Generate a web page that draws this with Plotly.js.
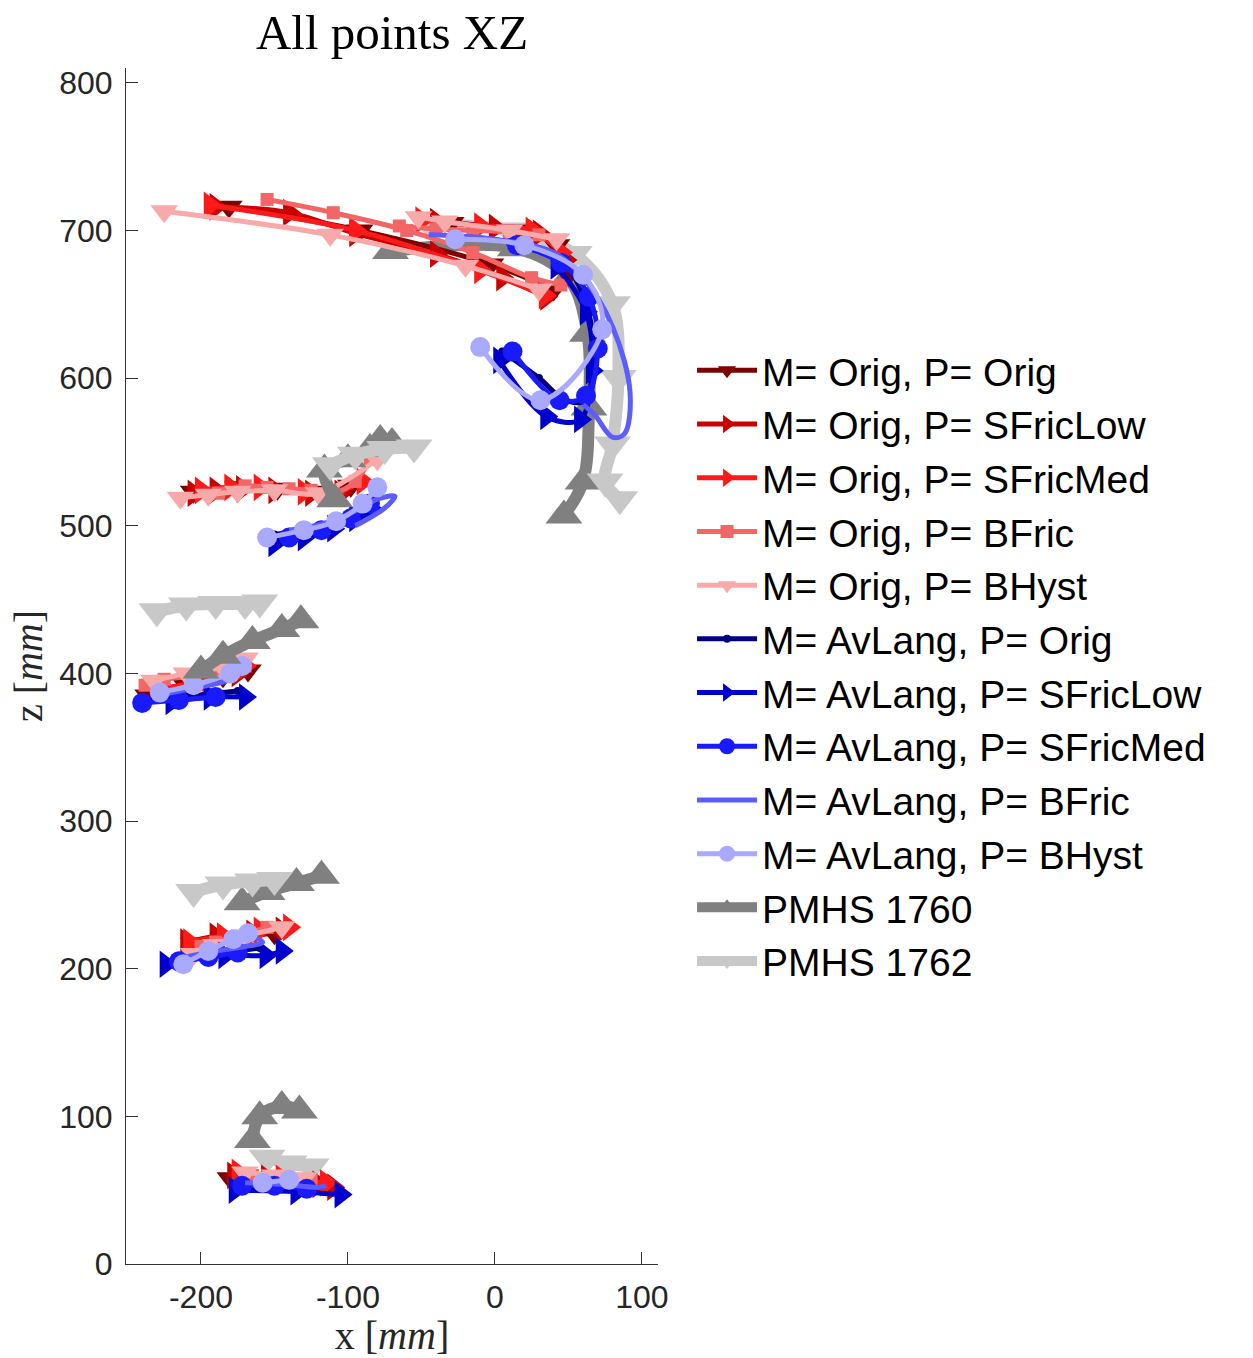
<!DOCTYPE html>
<html>
<head>
<meta charset="utf-8">
<script src="https://cdn.plot.ly/plotly-3.0.1.min.js"></script>
<style>
  html, body { margin: 0; padding: 0; background: #ffffff; }
  #chart { width: 1253px; height: 1358px; }
</style>
</head>
<body>
<div id="chart"></div>
<script>
// Trajectories in the XZ plane (mm). Each array holds one path per body point,
// separated by null: head arc, upper head, mid trunk, pelvis, knee, ankle.

const seriesNames = [
  'M= Orig, P= Orig', 'M= Orig, P= SFricLow', 'M= Orig, P= SFricMed',
  'M= Orig, P= BFric', 'M= Orig, P= BHyst',
  'M= AvLang, P= Orig', 'M= AvLang, P= SFricLow', 'M= AvLang, P= SFricMed',
  'M= AvLang, P= BFric', 'M= AvLang, P= BHyst',
  'PMHS 1760', 'PMHS 1762'
];

// M= Orig, P= Orig
const origOrigX = [-181, -92, -3, 40, null, -30, 15, 42, 50, null,
  -205, -175, -148, -120, -98, null, -236, -210, -185, -168, null,
  -205, -180, -150, null, -180, -150, -125];
const origOrigZ = [716, 700, 677, 660, null, 705, 700, 690, 670, null,
  523, 526, 525, 523, 527, null, 385, 392, 398, 402, null,
  217, 221, 224, null, 58, 56, 55];

// M= Orig, P= SFricLow
const origSFricLowX = [-190, -140, -95, -40, 5, 35, null, -40, 0, 30, 48, null,
  -205, -190, -172, -150, -125, -105, null, -230, -200, -175, null,
  -210, -190, -165, -145, null, -178, -155, -120, -110];
const origSFricLowZ = [716, 712, 698, 684, 668, 655, null, 706, 702, 698, 680, null,
  522, 524, 525, 524, 522, 522, null, 388, 394, 400, null,
  218, 222, 224, 226, null, 60, 58, 54, 52];

// M= Orig, P= SFricMed
const origSFricMedX = [-194, -95, -10, 34, null, -50, -10, 25, 45, null,
  -200, -180, -160, -130, -110, -90, null, -226, -195, -170, null,
  -208, -185, -160, -140, null, -175, -145, -115];
const origSFricMedZ = [717, 700, 673, 656, null, 707, 703, 700, 685, null,
  524, 526, 526, 523, 522, 530, null, 390, 396, 405, null,
  218, 222, 226, 228, null, 62, 58, 55];

// M= Orig, P= BFric
const origBFricX = [-155, -110, -60, -15, 25, 45, null, -65, -40, -15, 10, 30, null,
  -188, -170, -155, -140, -125, -110, -95, -85, null, -238, -225, -205, -185, -170, null,
  -200, -190, -175, -155, null, -165, -145, -125];
const origBFricZ = [721, 712, 700, 685, 668, 663, null, 703, 701, 700, 699, 697, null,
  522, 527, 526, 525, 524, 522, 530, 545, null, 392, 396, 398, 400, 405, null,
  215, 218, 222, 228, null, 60, 58, 57];

// M= Orig, P= BHyst
const origBHystX = [-225, -112, -20, 30, null, -52, -34, 10, 42, null,
  -214, -195, -175, -150, -120, -80, null, -232, -210, -185, -170, null,
  -205, -190, -170, -145, null, -170, -150, -130];
const origBHystZ = [713, 697, 676, 660, null, 709, 706, 700, 694, null,
  519, 521, 523, 524, 522, 545, null, 395, 400, 404, 410, null,
  210, 216, 222, 228, null, 62, 60, 58];

// M= AvLang, P= Orig
const avOrigX = [5, 30, 48, 62, 68, 62, 45, 10, -30, null,
  -150, -125, -105, -90, -82, null, -238, -215, -195, -175, null,
  -215, -195, -175, -160, null, -175, -150, -125];
const avOrigZ = [618, 600, 585, 585, 610, 650, 680, 692, 696, null,
  494, 498, 504, 512, 520, null, 381, 384, 386, 388, null,
  206, 209, 212, 214, null, 52, 52, 50];

// M= AvLang, P= SFricLow
const avSFricLowX = [3, 35, 58, 66, 62, 42, null,
  -150, -130, -110, -95, -85, null, -220, -194, -170, null,
  -224, -184, -156, -145, null, -177, -135, -105];
const avSFricLowZ = [612, 574, 572, 605, 645, 676, null,
  488, 492, 498, 505, 512, null, 381, 384, 384, null,
  203, 209, 209, 212, null, 50, 49, 47];

// M= AvLang, P= SFricMed
const avSFricMedX = [12, 44, 62, 70, 64, 45, 15, null,
  -140, -118, -98, -85, null, -240, -215, -190, null,
  -215, -195, -175, null, -172, -150, -128];
const avSFricMedZ = [618, 585, 588, 620, 655, 678, 690, null,
  492, 497, 505, 515, null, 380, 382, 384, null,
  205, 208, 211, null, 53, 53, 51];

// M= AvLang, P= BFric
const avBFricX = [-45, 0, 40, 60, 80, 92, 88, 80, 68, 60, null,
  -140, -115, -95, -80, -68, -75, -95, null, -230, -205, -180, -170, -178, null,
  -210, -190, -170, -158, -165, null, -170, -145, -120, -115];
const avBFricZ = [697, 694, 685, 668, 635, 590, 562, 560, 575, 582, null,
  497, 502, 510, 518, 520, 512, 500, null, 385, 390, 396, 404, 408, null,
  208, 212, 215, 218, 222, null, 55, 54, 52, 53];

// M= AvLang, P= BHyst
const avBHystX = [-10, 31, 73, 60, 20, -27, null,
  -155, -130, -108, -90, -80, null, -228, -205, -180, -172, null,
  -212, -195, -178, -168, null, -158, -140];
const avBHystZ = [621, 585, 633, 670, 690, 694, null,
  492, 497, 503, 515, 526, null, 387, 392, 400, 405, null,
  203, 212, 220, 224, null, 55, 57];

// PMHS 1760
const pmhs1760X = [-71, 14, 50, 63, 64, 60, 47, null,
  -109, -116, -100, -85, -78, -70, null, -200, -185, -165, -145, -132, null,
  -172, -155, -135, -118, null, -165, -160, -145, -133];
const pmhs1760Z = [686, 688, 668, 630, 580, 530, 507, null,
  518, 538, 545, 552, 558, 556, null, 402, 412, 422, 430, 436, null,
  245, 252, 258, 263, null, 84, 100, 107, 104];

// PMHS 1762
const pmhs1762X = [-44, 10, 54, 80, 84, 80, 75, 85, null,
  -112, -95, -75, -55, null, -230, -210, -190, -170, -160, null,
  -205, -185, -165, -150, null, -155, -140, -125];
const pmhs1762Z = [704, 700, 684, 650, 600, 555, 530, 518, null,
  541, 548, 552, 553, null, 442, 446, 447, 447, 448, null,
  252, 257, 259, 260, null, 72, 68, 66];

const xTicks = [-200, -100, 0, 100];
const zTicks = [0, 100, 200, 300, 400, 500, 600, 700, 800];

const seriesX = [origOrigX, origSFricLowX, origSFricMedX, origBFricX, origBHystX,
  avOrigX, avSFricLowX, avSFricMedX, avBFricX, avBHystX, pmhs1760X, pmhs1762X];
const seriesZ = [origOrigZ, origSFricLowZ, origSFricMedZ, origBFricZ, origBHystZ,
  avOrigZ, avSFricLowZ, avSFricMedZ, avBFricZ, avBHystZ, pmhs1760Z, pmhs1762Z];

// Line and marker look for each series
const looks = [
  { color: '#800000', symbol: 'triangle-down',  size: 24, width: 5 },
  { color: '#c80000', symbol: 'triangle-right', size: 24, width: 5 },
  { color: '#ff1a1a', symbol: 'triangle-right', size: 24, width: 5 },
  { color: '#f26666', symbol: 'square',         size: 13, width: 5 },
  { color: '#f8a9a9', symbol: 'triangle-down',  size: 24, width: 5 },
  { color: '#00007f', symbol: 'circle',         size: 8,  width: 5 },
  { color: '#0000cc', symbol: 'triangle-right', size: 24, width: 5 },
  { color: '#1a1aff', symbol: 'circle',         size: 20, width: 5 },
  { color: '#5c5cff', symbol: null,             size: 0,  width: 5 },
  { color: '#a9a9ff', symbol: 'circle',         size: 20, width: 5 },
  { color: '#808080', symbol: 'triangle-up',    size: 32, width: 12, pmhs: true },
  { color: '#c8c8c8', symbol: 'triangle-down',  size: 32, width: 12, pmhs: true }
];

function splitPaths(xs, zs) {
  const out = [];
  let cur = { x: [], z: [] };
  for (let i = 0; i < xs.length; i++) {
    if (xs[i] === null) { out.push(cur); cur = { x: [], z: [] }; continue; }
    cur.x.push(xs[i]); cur.z.push(zs[i]);
  }
  out.push(cur);
  return out;
}

// Drawing layers: PMHS head/knee/ankle under the models, PMHS trunk/pelvis above.
const layered = [];
seriesNames.forEach((name, si) => {
  const lk = looks[si];
  splitPaths(seriesX[si], seriesZ[si]).forEach((p, pi) => {
    const meanZ = p.z.reduce((a, b) => a + b, 0) / p.z.length;
    const trunkLevel = meanZ > 330 && meanZ < 600;
    const t = {
      type: 'scatter',
      x: p.x, y: p.z,
      name: name,
      legendgroup: name,
      legendrank: si + 1,
      showlegend: pi === 0,
      mode: lk.symbol ? 'lines+markers' : 'lines',
      line: { color: lk.color, width: lk.width, shape: 'spline', smoothing: 1 },
      hoverinfo: 'skip'
    };
    if (lk.symbol) {
      t.marker = { symbol: lk.symbol, size: lk.size, color: lk.color, line: { width: 0 } };
    }
    layered.push({ layer: lk.pmhs ? (trunkLevel ? 2 : 0) : 1, trace: t });
  });
});
const traces = [0, 1, 2].flatMap(l => layered.filter(d => d.layer === l).map(d => d.trace));

const axisColor = '#333333';
const layout = {
  width: 1253,
  height: 1358,
  paper_bgcolor: '#ffffff',
  plot_bgcolor: '#ffffff',
  margin: { l: 126, r: 595, t: 68, b: 94 },
  showlegend: true,
  title: {
    text: 'All points XZ',
    font: { family: 'Liberation Serif, serif', size: 49, color: '#000000' },
    x: 0.5, xref: 'paper', xanchor: 'center',
    y: 1 - 32 / 1358, yref: 'container', yanchor: 'middle'
  },
  xaxis: {
    range: [-251, 111],
    tickvals: xTicks,
    ticktext: xTicks.map(String),
    ticks: 'inside', ticklen: 12, tickwidth: 1, tickcolor: axisColor,
    ticklabelstandoff: 5,
    showline: true, linecolor: axisColor, linewidth: 1,
    showgrid: false, zeroline: false,
    tickfont: { family: 'Liberation Sans, Arial, sans-serif', size: 32, color: '#262626' },
    title: {
      text: 'x [<i>mm</i>]',
      font: { family: 'Liberation Serif, serif', size: 40, color: '#262626' },
      standoff: 4
    }
  },
  yaxis: {
    range: [0, 810],
    tickvals: zTicks,
    ticktext: zTicks.map(String),
    ticks: 'inside', ticklen: 12, tickwidth: 1, tickcolor: axisColor,
    ticklabelstandoff: 6,
    showline: true, linecolor: axisColor, linewidth: 1,
    showgrid: false, zeroline: false,
    tickfont: { family: 'Liberation Sans, Arial, sans-serif', size: 32, color: '#262626' },
    title: {
      text: 'z [<i>mm</i>]',
      font: { family: 'Liberation Serif, serif', size: 40, color: '#262626' },
      standoff: 4
    }
  },
  legend: {
    x: 1.064, xanchor: 'left',
    y: 0.5, yanchor: 'middle',
    bgcolor: 'rgba(0,0,0,0)',
    borderwidth: 0,
    itemwidth: 60,
    tracegroupgap: 0,
    traceorder: 'normal',
    font: { family: 'Liberation Sans, Arial, sans-serif', size: 39, color: '#000000' }
  }
};

Plotly.newPlot('chart', traces, layout, { staticPlot: true, displayModeBar: false });
</script>
</body>
</html>
